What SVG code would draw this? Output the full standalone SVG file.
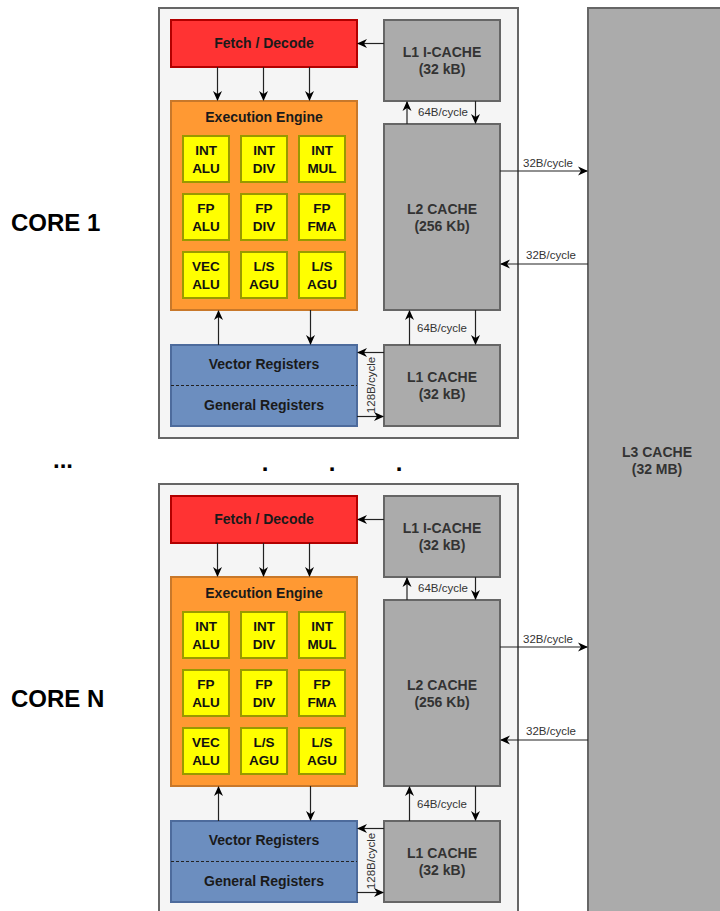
<svg xmlns="http://www.w3.org/2000/svg" width="720" height="911" viewBox="0 0 720 911">
<defs>
<style>
text{font-family:"Liberation Sans",Arial,sans-serif;text-anchor:middle}
.b{font-weight:bold;font-size:14px;fill:#1a1a1a}
.g{font-weight:bold;font-size:14px;fill:#333}
.u{font-weight:bold;font-size:13.5px;fill:#111}
.s{font-size:11.5px;fill:#333}
.core{font-weight:bold;font-size:24px;fill:#000;text-anchor:start}
.cont{fill:#f5f5f5;stroke:#666;stroke-width:2}
.fd{fill:#ff3333;stroke:#b20000;stroke-width:2}
.ex{fill:#ff9933;stroke:#c8782a;stroke-width:2}
.un{fill:#ffff00;stroke:#999900;stroke-width:2}
.gr{fill:#ababab;stroke:#666;stroke-width:2}
.rg{fill:#6c8ebf;stroke:#4d6b9c;stroke-width:2}
.ln{fill:none;stroke:#222;stroke-width:1.2;marker-end:url(#ah)}
.dash{stroke:#222;stroke-width:1;stroke-dasharray:3,2}
</style>
<marker id="ah" viewBox="0 0 10 10" refX="9" refY="5" markerWidth="10" markerHeight="10" markerUnits="userSpaceOnUse" orient="auto">
<path d="M0,0.5 L10,5 L0,9.5 L3,5 Z" fill="#000"/>
</marker>
</defs>
<rect x="0" y="0" width="720" height="911" fill="#fff"/>
<g id="l3"><rect class="gr" x="588" y="8" width="140" height="912"/><text class="g" x="657" y="457">L3 CACHE</text><text class="g" x="657" y="474">(32 MB)</text></g>

<g id="core1">
<rect id="core1-frame" class="cont" x="159" y="8" width="359" height="430"/>
<g id="c1-fetch"><rect class="fd" x="171" y="20" width="186" height="47"/><text class="b" x="264" y="48">Fetch / Decode</text></g>
<g id="c1-l1i"><rect class="gr" x="384" y="20" width="116" height="81"/><text class="g" x="442" y="57">L1 I-CACHE</text><text class="g" x="442" y="74">(32 kB)</text></g>
<g id="c1-exec"><rect class="ex" x="171" y="101" width="186" height="209"/><text class="b" x="264" y="121.5">Execution Engine</text></g>
<g id="c1-u1"><rect class="un" x="183" y="136" width="46" height="46"/><text class="u" x="206" y="155">INT</text><text class="u" x="206" y="172.5">ALU</text></g>
<g id="c1-u2"><rect class="un" x="241" y="136" width="46" height="46"/><text class="u" x="264" y="155">INT</text><text class="u" x="264" y="172.5">DIV</text></g>
<g id="c1-u3"><rect class="un" x="299" y="136" width="46" height="46"/><text class="u" x="322" y="155">INT</text><text class="u" x="322" y="172.5">MUL</text></g>
<g id="c1-u4"><rect class="un" x="183" y="194" width="46" height="46"/><text class="u" x="206" y="213">FP</text><text class="u" x="206" y="230.5">ALU</text></g>
<g id="c1-u5"><rect class="un" x="241" y="194" width="46" height="46"/><text class="u" x="264" y="213">FP</text><text class="u" x="264" y="230.5">DIV</text></g>
<g id="c1-u6"><rect class="un" x="299" y="194" width="46" height="46"/><text class="u" x="322" y="213">FP</text><text class="u" x="322" y="230.5">FMA</text></g>
<g id="c1-u7"><rect class="un" x="183" y="252" width="46" height="46"/><text class="u" x="206" y="271">VEC</text><text class="u" x="206" y="288.5">ALU</text></g>
<g id="c1-u8"><rect class="un" x="241" y="252" width="46" height="46"/><text class="u" x="264" y="271">L/S</text><text class="u" x="264" y="288.5">AGU</text></g>
<g id="c1-u9"><rect class="un" x="299" y="252" width="46" height="46"/><text class="u" x="322" y="271">L/S</text><text class="u" x="322" y="288.5">AGU</text></g>
<g id="c1-l2"><rect class="gr" x="384" y="124" width="116" height="186"/><text class="g" x="442" y="213.5">L2 CACHE</text><text class="g" x="442" y="231">(256 Kb)</text></g>
<g id="c1-l1d"><rect class="gr" x="384" y="345" width="116" height="81"/><text class="g" x="442" y="382">L1 CACHE</text><text class="g" x="442" y="399">(32 kB)</text></g>
<g id="c1-regs"><rect class="rg" x="171" y="345" width="186" height="81"/><line class="dash" x1="171" y1="385.5" x2="357" y2="385.5"/><text class="b" x="264" y="368.5">Vector Registers</text><text class="b" x="264" y="410">General Registers</text></g>
</g>

<g id="coreN">
<rect id="coreN-frame" class="cont" x="159" y="484" width="359" height="430"/>
<g id="cN-fetch"><rect class="fd" x="171" y="496" width="186" height="47"/><text class="b" x="264" y="524">Fetch / Decode</text></g>
<g id="cN-l1i"><rect class="gr" x="384" y="496" width="116" height="81"/><text class="g" x="442" y="533">L1 I-CACHE</text><text class="g" x="442" y="550">(32 kB)</text></g>
<g id="cN-exec"><rect class="ex" x="171" y="577" width="186" height="209"/><text class="b" x="264" y="597.5">Execution Engine</text></g>
<g id="cN-u1"><rect class="un" x="183" y="612" width="46" height="46"/><text class="u" x="206" y="631">INT</text><text class="u" x="206" y="648.5">ALU</text></g>
<g id="cN-u2"><rect class="un" x="241" y="612" width="46" height="46"/><text class="u" x="264" y="631">INT</text><text class="u" x="264" y="648.5">DIV</text></g>
<g id="cN-u3"><rect class="un" x="299" y="612" width="46" height="46"/><text class="u" x="322" y="631">INT</text><text class="u" x="322" y="648.5">MUL</text></g>
<g id="cN-u4"><rect class="un" x="183" y="670" width="46" height="46"/><text class="u" x="206" y="689">FP</text><text class="u" x="206" y="706.5">ALU</text></g>
<g id="cN-u5"><rect class="un" x="241" y="670" width="46" height="46"/><text class="u" x="264" y="689">FP</text><text class="u" x="264" y="706.5">DIV</text></g>
<g id="cN-u6"><rect class="un" x="299" y="670" width="46" height="46"/><text class="u" x="322" y="689">FP</text><text class="u" x="322" y="706.5">FMA</text></g>
<g id="cN-u7"><rect class="un" x="183" y="728" width="46" height="46"/><text class="u" x="206" y="747">VEC</text><text class="u" x="206" y="764.5">ALU</text></g>
<g id="cN-u8"><rect class="un" x="241" y="728" width="46" height="46"/><text class="u" x="264" y="747">L/S</text><text class="u" x="264" y="764.5">AGU</text></g>
<g id="cN-u9"><rect class="un" x="299" y="728" width="46" height="46"/><text class="u" x="322" y="747">L/S</text><text class="u" x="322" y="764.5">AGU</text></g>
<g id="cN-l2"><rect class="gr" x="384" y="600" width="116" height="186"/><text class="g" x="442" y="689.5">L2 CACHE</text><text class="g" x="442" y="707">(256 Kb)</text></g>
<g id="cN-l1d"><rect class="gr" x="384" y="821" width="116" height="81"/><text class="g" x="442" y="858">L1 CACHE</text><text class="g" x="442" y="875">(32 kB)</text></g>
<g id="cN-regs"><rect class="rg" x="171" y="821" width="186" height="81"/><line class="dash" x1="171" y1="861.5" x2="357" y2="861.5"/><text class="b" x="264" y="844.5">Vector Registers</text><text class="b" x="264" y="886">General Registers</text></g>
</g>

<g id="connectors">
<path class="ln" d="M384,43.5 H358"/>
<path class="ln" d="M217.5,67 V100"/>
<path class="ln" d="M263.5,67 V100"/>
<path class="ln" d="M309.5,67 V100"/>
<path class="ln" d="M407,124 V102"/>
<path class="ln" d="M475.5,101 V123"/>
<text class="s" x="443" y="115.5">64B/cycle</text>
<path class="ln" d="M218.5,345 V311"/>
<path class="ln" d="M310.5,310 V344"/>
<path class="ln" d="M409.5,345 V311"/>
<path class="ln" d="M475.5,310 V344"/>
<text class="s" x="442" y="331.5">64B/cycle</text>
<path class="ln" d="M384,352.5 H358"/>
<path class="ln" d="M357,416.5 H383"/>
<text class="s" transform="translate(375,385) rotate(-90)">128B/cycle</text>
<path class="ln" d="M500,171 H587"/>
<text class="s" x="548" y="166.5">32B/cycle</text>
<path class="ln" d="M588,264 H501"/>
<text class="s" x="551" y="258.5">32B/cycle</text>

<path class="ln" d="M384,519.5 H358"/>
<path class="ln" d="M217.5,543 V576"/>
<path class="ln" d="M263.5,543 V576"/>
<path class="ln" d="M309.5,543 V576"/>
<path class="ln" d="M407,600 V578"/>
<path class="ln" d="M475.5,577 V599"/>
<text class="s" x="443" y="591.5">64B/cycle</text>
<path class="ln" d="M218.5,821 V787"/>
<path class="ln" d="M310.5,786 V820"/>
<path class="ln" d="M409.5,821 V787"/>
<path class="ln" d="M475.5,786 V820"/>
<text class="s" x="442" y="807.5">64B/cycle</text>
<path class="ln" d="M384,828.5 H358"/>
<path class="ln" d="M357,892.5 H383"/>
<text class="s" transform="translate(375,861) rotate(-90)">128B/cycle</text>
<path class="ln" d="M500,647 H587"/>
<text class="s" x="548" y="642.5">32B/cycle</text>
<path class="ln" d="M588,740 H501"/>
<text class="s" x="551" y="734.5">32B/cycle</text>
</g>

<text class="core" x="11" y="231">CORE 1</text>
<text class="core" x="11" y="707">CORE N</text>
<text class="core" x="53" y="468">...</text>
<text class="core" x="265" y="471" style="text-anchor:middle">.</text>
<text class="core" x="332" y="471" style="text-anchor:middle">.</text>
<text class="core" x="399" y="471" style="text-anchor:middle">.</text>
</svg>
